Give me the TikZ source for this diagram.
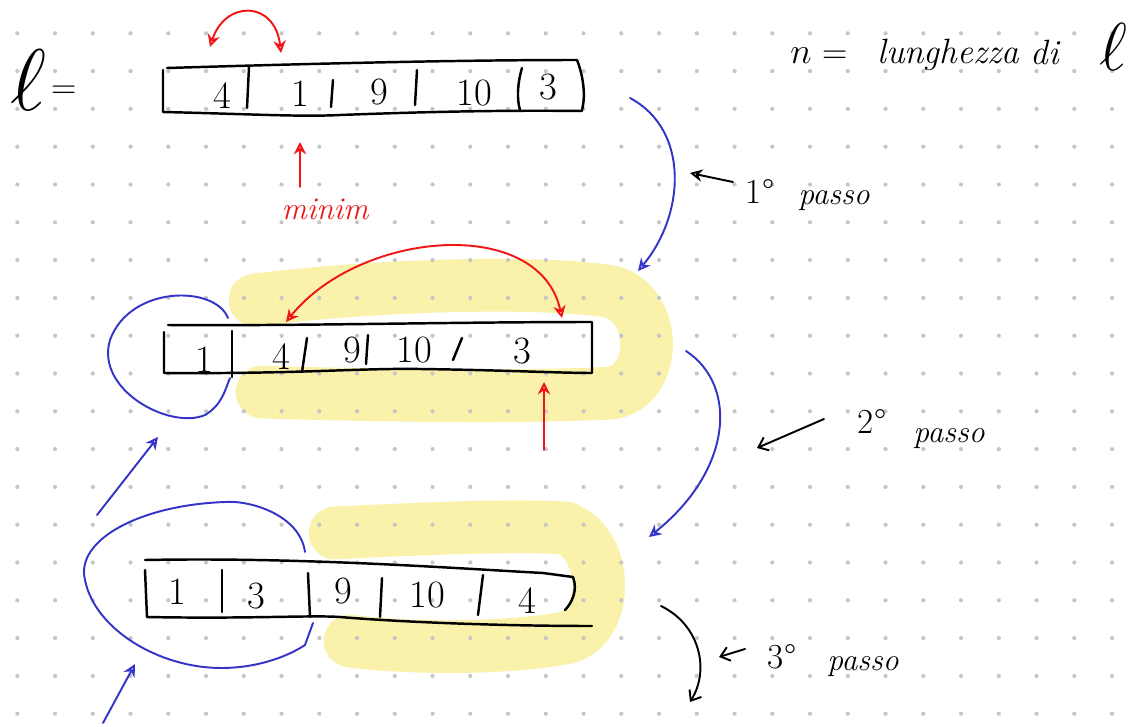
\documentclass[tikz,border=0pt]{standalone}
\usetikzlibrary{arrows.meta}

\definecolor{penblue}{RGB}{52,52,200}
\definecolor{penred}{RGB}{240,22,22}
\definecolor{hilite}{RGB}{250,242,170}
\definecolor{griddot}{RGB}{198,198,198}

\begin{document}
\begin{tikzpicture}[x=0.02cm,y=-0.02cm,
  pen/.style={line width=1.4pt,line cap=round,line join=round},
  thinpen/.style={line width=1.1pt,line cap=round,line join=round},
  bluepen/.style={thinpen,draw=penblue},
  redpen/.style={thinpen,draw=penred},
  marker/.style={draw=hilite,line width=30pt,line cap=round},
  num/.style={inner sep=0pt,font=\fontsize{22}{24}\selectfont},
  word/.style={inner sep=0pt,anchor=base,font=\fontsize{18}{20}\selectfont\itshape},
  head/.style={-{Stealth[open,length=7pt,width=7pt]}},
  barb/.style={-{Straight Barb[length=5pt,width=8pt]}}]

\fill[white] (0,0) rectangle (1137,727);
\useasboundingbox (0,0) rectangle (1137,727);

\draw[marker] (255,300) .. controls (400,282) and (560,282) .. (612,292)
  .. controls (658,305) and (658,385) .. (612,393)
  .. controls (520,398) and (350,395) .. (262,392);
\draw[marker] (335,533) .. controls (430,528) and (520,525) .. (565,528)
  .. controls (610,545) and (610,628) .. (565,638)
  .. controls (500,650) and (400,648) .. (350,641);

\foreach \i in {0,...,29}
  \foreach \j in {0,...,18}
    \fill[griddot] ({17.3+37.75*\i},{33.3+37.8*\j}) circle (1.2pt);

\node[inner sep=0pt,font=\Huge,scale=2] (lname) at (28,80) {$\ell$};
\node[inner sep=0pt,font=\fontsize{20}{22}\selectfont] (leq) at (64,92) {=};

\node[inner sep=0pt,anchor=base west,font=\fontsize{20}{22}\selectfont] (nlen) at (790,63) {$n$ =};
\node[word,font=\fontsize{20}{22}\selectfont\itshape] (lung) at (948,63) {lunghezza};
\node[word,font=\fontsize{20}{22}\selectfont\itshape] (di) at (1045,64) {di};
\node[inner sep=0pt,anchor=base,font=\Huge,scale=1.55] (lend) at (1113,70) {$\ell$};

\draw[pen] (163,70) -- (163,112) .. controls (250,114) and (300,117) .. (340,115)
  .. controls (420,112) and (500,110) .. (582,111);
\draw[pen] (167,68) .. controls (300,64) and (450,60) .. (577,60)
  .. controls (583,75) and (586,95) .. (582,110);
\draw[pen] (249,67) -- (247,108);
\draw[pen] (333,80) -- (331,107);
\draw[pen] (417,70) -- (415,105);
\draw[pen] (522,68) .. controls (517,85) and (517,100) .. (520,110);
\node[num] (a1) at (222,96) {4};
\node[num] (a2) at (300,94) {1};
\node[num] (a3) at (379,92) {9};
\node[num] (a4) at (474,93) {10};
\node[num] (a5) at (548,87) {3};

\draw[pen] (164,332) -- (164,373) .. controls (300,374) and (360,368) .. (420,369)
  .. controls (500,370) and (560,373) .. (592,373) -- (592,322)
  .. controls (450,322) and (300,326) .. (168,325);
\draw[pen] (232,331) -- (232,377);
\draw[pen] (307,338) -- (302,372);
\draw[pen] (368,335) -- (366,364);
\draw[pen] (462,338) -- (453,360);
\node[num] (b1) at (204,360) {1};
\node[num] (b2) at (281,357) {4};
\node[num] (b3) at (352,350) {9};
\node[num] (b4) at (414,350) {10};
\node[num] (b5) at (522,351) {3};

\draw[pen] (145,570) -- (147,617) .. controls (250,619) and (310,615) .. (340,617)
  .. controls (400,622) and (500,626) .. (592,626);
\draw[pen] (145,560) .. controls (300,557) and (450,568) .. (543,573) -- (573,577)
  .. controls (578,590) and (572,603) .. (565,610);
\draw[pen] (222,570) -- (222,612);
\draw[pen] (308,573) -- (310,617);
\draw[pen] (382,578) -- (380,617);
\draw[pen] (483,575) -- (478,615);
\node[num] (c1) at (177,592) {1};
\node[num] (c2) at (256,596) {3};
\node[num] (c3) at (343,591) {9};
\node[num] (c4) at (427,595) {10};
\node[num] (c5) at (527,601) {4};

\coordinate (swapAl) at (210,47);
\coordinate (swapAr) at (281,53);
\draw[redpen,{Stealth[open,length=7pt,width=7pt]}-{Stealth[open,length=7pt,width=7pt]}]
  (swapAl) .. controls (225,0) and (275,0) .. (swapAr);
\coordinate (minA) at (300,187);
\coordinate (minB) at (300,142);
\draw[redpen,head] (minA) -- (minB);
\node[word,text=penred] (minim) at (325,219) {minim};

\coordinate (swapBl) at (286,322);
\coordinate (swapBr) at (562,318);
\draw[redpen,{Stealth[open,length=7pt,width=7pt]}-{Stealth[open,length=7pt,width=7pt]}]
  (swapBl) .. controls (360,230) and (540,215) .. (swapBr);
\coordinate (minC) at (544,450);
\coordinate (minD) at (544,382);
\draw[redpen,head] (minC) -- (minD);

\coordinate (stepAa) at (630,98);
\coordinate (stepAb) at (638,271);
\draw[bluepen,head] (stepAa) .. controls (690,130) and (685,215) .. (stepAb);
\coordinate (stepBa) at (686,351);
\coordinate (stepBb) at (649,537);
\draw[bluepen,head] (stepBa) .. controls (738,385) and (733,470) .. (stepBb);
\coordinate (stepCa) at (661,606);
\coordinate (stepCb) at (690,702);
\draw[thinpen,barb] (stepCa) .. controls (700,625) and (710,670) .. (stepCb);

\coordinate (loopAa) at (228,318);
\coordinate (loopAb) at (230,378);
\draw[bluepen] (loopAa) .. controls (215,285) and (130,285) .. (110,340)
  .. controls (95,390) and (170,430) .. (205,415)
  .. controls (222,405) and (225,390) .. (loopAb);
\coordinate (loopBa) at (305,552);
\coordinate (loopBb) at (313,623);
\draw[bluepen] (loopBa) .. controls (300,515) and (250,500) .. (225,502)
  .. controls (140,505) and (75,540) .. (85,580)
  .. controls (95,630) and (160,668) .. (221,668)
  .. controls (260,668) and (290,655) .. (305,645) -- (loopBb);

\coordinate (upAa) at (97,515);
\coordinate (upAb) at (158,437);
\draw[bluepen,head] (upAa) -- (upAb);
\coordinate (upBa) at (103,723);
\coordinate (upBb) at (135,664);
\draw[bluepen,head] (upBa) -- (upBb);

\coordinate (tagAa) at (733,182);
\coordinate (tagAb) at (690,173);
\draw[thinpen,head] (tagAa) -- (tagAb);
\node[word,font=\fontsize{20}{22}\selectfont] (s1n) at (760,203) {1°};
\node[word] (s1w) at (834,204) {passo};

\coordinate (tagBa) at (824,419);
\coordinate (tagBb) at (757,448);
\draw[thinpen,barb] (tagBa) -- (tagBb);
\node[word,font=\fontsize{20}{22}\selectfont] (s2n) at (872,433) {2°};
\node[word] (s2w) at (949,442) {passo};

\coordinate (tagCa) at (745,649);
\coordinate (tagCb) at (719,657);
\draw[thinpen,barb] (tagCa) -- (tagCb);
\node[word,font=\fontsize{20}{22}\selectfont] (s3n) at (782,668) {3°};
\node[word] (s3w) at (863,670) {passo};
\end{tikzpicture}
\end{document}
